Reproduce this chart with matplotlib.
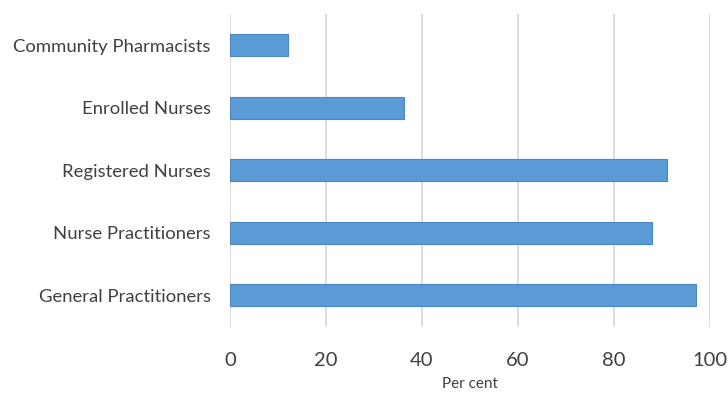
import matplotlib.pyplot as plt

# === Daten ===
categories = ["General Practitioners", "Nurse Practitioners", "Registered Nurses",
              "Enrolled Nurses", "Community Pharmacists"]
values = [97.1, 88.0, 91.0, 36.3, 12.0]
x_ticks = [0, 20, 40, 60, 80, 100]

plt.rcParams['font.family'] = ['Lato', 'DejaVu Sans']

fig = plt.figure(figsize=(7.28, 3.94), dpi=100)
ax = fig.add_axes([230 / 728, 1 - 326.5 / 394, 480 / 728, 312.5 / 394])

ax.barh(categories, values, height=0.35, color="#5B9BD5",
        edgecolor="#4A86C0", linewidth=0.8, zorder=3)

ax.set_xlim(0, 100)
ax.set_ylim(-0.5, len(categories) - 0.5)
ax.set_xticks(x_ticks)
ax.grid(axis="x", color="#d9d9d9", linewidth=1.3, zorder=0)
ax.grid(axis="y", visible=False)

for s in ["top", "right", "bottom", "left"]:
    ax.spines[s].set_visible(False)

ax.tick_params(axis="both", length=0)
ax.tick_params(axis="x", labelsize=14.5, labelcolor="#404040", pad=18)
ax.tick_params(axis="y", labelsize=13.3, labelcolor="#404040", pad=14)

ax.set_xlabel("Per cent", fontsize=11, color="#404040", labelpad=6)

fig.savefig("out.png", dpi=100)
plt.close(fig)
